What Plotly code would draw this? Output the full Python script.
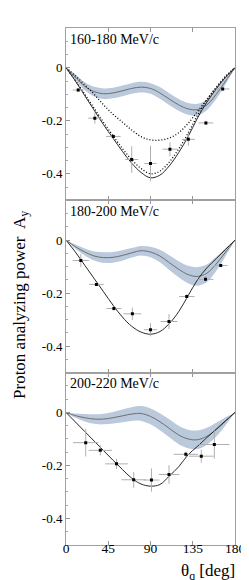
import plotly.graph_objects as go
from plotly.subplots import make_subplots

theta = [0, 10, 20, 30, 40, 50, 60, 70, 80, 90, 100, 110, 120, 130, 140, 150, 160, 170, 180]

# Panel 1 (160-180 MeV/c)
p1_solid = [0, -0.05, -0.105, -0.16, -0.215, -0.265, -0.315, -0.36, -0.395, -0.415, -0.405, -0.37, -0.32, -0.26, -0.19, -0.13, -0.08, -0.035, 0]
p1_dot_deep = [0, -0.048, -0.1, -0.153, -0.206, -0.256, -0.304, -0.347, -0.38, -0.4, -0.39, -0.356, -0.306, -0.247, -0.18, -0.122, -0.074, -0.032, 0]
p1_dot_shallow = [0, -0.03, -0.065, -0.1, -0.14, -0.175, -0.205, -0.235, -0.26, -0.272, -0.273, -0.265, -0.245, -0.21, -0.165, -0.12, -0.075, -0.035, 0]
p1_band_mid = [0, -0.035, -0.07, -0.09, -0.098, -0.095, -0.087, -0.078, -0.073, -0.078, -0.095, -0.118, -0.14, -0.155, -0.158, -0.14, -0.1, -0.05, 0]
p1_band_hw = [0, 0.01, 0.015, 0.018, 0.02, 0.02, 0.02, 0.02, 0.02, 0.02, 0.022, 0.022, 0.022, 0.022, 0.022, 0.02, 0.018, 0.012, 0]
p1_x = [13, 30.7, 50.4, 70, 90, 110.7, 130.3, 149, 166.9]
p1_y = [-0.084, -0.19, -0.259, -0.346, -0.361, -0.307, -0.27, -0.208, -0.08]
p1_ex = [5.9, 7, 7.8, 7, 6.5, 8, 7, 7.8, 7.2]
p1_ey = [0.008, 0.021, 0.008, 0.05, 0.067, 0.026, 0.024, 0.008, 0.008]

# Panel 2 (180-200 MeV/c)
p2_solid = [0, -0.045, -0.095, -0.145, -0.195, -0.245, -0.29, -0.325, -0.347, -0.355, -0.345, -0.315, -0.27, -0.21, -0.15, -0.105, -0.07, -0.035, 0]
p2_band_mid = [0, -0.025, -0.045, -0.06, -0.066, -0.065, -0.058, -0.048, -0.04, -0.045, -0.06, -0.085, -0.11, -0.13, -0.137, -0.125, -0.09, -0.045, 0]
p2_band_hw = [0, 0.008, 0.013, 0.017, 0.02, 0.02, 0.02, 0.018, 0.018, 0.02, 0.024, 0.028, 0.03, 0.033, 0.035, 0.033, 0.027, 0.015, 0]
p2_x = [15.8, 32.4, 51, 70.7, 90, 109.7, 128.6, 148.6, 164.8]
p2_y = [-0.077, -0.167, -0.258, -0.278, -0.338, -0.307, -0.213, -0.148, -0.096]
p2_ex = [8.6, 7.8, 8, 9.5, 7, 9, 8.3, 8.3, 7.2]
p2_ey = [0.025, 0.006, 0.008, 0.023, 0.025, 0.028, 0.008, 0.012, 0.006]

# Panel 3 (200-220 MeV/c)
p3_solid = [0, -0.036, -0.072, -0.108, -0.144, -0.18, -0.215, -0.248, -0.27, -0.278, -0.272, -0.24, -0.205, -0.16, -0.128, -0.095, -0.063, -0.031, 0]
p3_band_mid = [0, -0.012, -0.02, -0.025, -0.025, -0.02, -0.013, -0.006, -0.004, -0.015, -0.035, -0.06, -0.085, -0.1, -0.103, -0.09, -0.065, -0.033, 0]
p3_band_hw = [0, 0.008, 0.014, 0.018, 0.02, 0.022, 0.024, 0.026, 0.028, 0.03, 0.032, 0.034, 0.035, 0.035, 0.035, 0.032, 0.026, 0.015, 0]
p3_x = [21, 36.5, 53.8, 72.1, 91, 109.7, 127.6, 144.1, 158]
p3_y = [-0.114, -0.143, -0.194, -0.254, -0.255, -0.234, -0.158, -0.165, -0.121]
p3_ex = [13.5, 12.4, 12, 13, 8.5, 10.9, 13, 13, 16]
p3_ey = [0.052, 0.019, 0.019, 0.03, 0.044, 0.035, 0.01, 0.025, 0.053]

panel_labels = ["160-180 MeV/c", "180-200 MeV/c", "200-220 MeV/c"]
x_ticks = [0, 45, 90, 135, 180]

BAND = "rgb(186,201,219)"
FONT = "Liberation Serif"

fig = make_subplots(rows=3, cols=1, shared_xaxes=True, vertical_spacing=0)

panels = [
    dict(mid=p1_band_mid, hw=p1_band_hw, solid=p1_solid, dots=[p1_dot_deep, p1_dot_shallow],
         x=p1_x, y=p1_y, ex=p1_ex, ey=p1_ey),
    dict(mid=p2_band_mid, hw=p2_band_hw, solid=p2_solid, dots=[],
         x=p2_x, y=p2_y, ex=p2_ex, ey=p2_ey),
    dict(mid=p3_band_mid, hw=p3_band_hw, solid=p3_solid, dots=[],
         x=p3_x, y=p3_y, ex=p3_ex, ey=p3_ey),
]

for i, p in enumerate(panels):
    r = i + 1
    upper = [m + h for m, h in zip(p["mid"], p["hw"])]
    lower = [m - h for m, h in zip(p["mid"], p["hw"])]
    fig.add_trace(go.Scatter(x=theta, y=upper, mode="lines", line=dict(width=0, shape="spline"),
                             showlegend=False, hoverinfo="skip"), row=r, col=1)
    fig.add_trace(go.Scatter(x=theta, y=lower, mode="lines", line=dict(width=0, shape="spline"),
                             fill="tonexty", fillcolor=BAND, showlegend=False, hoverinfo="skip"), row=r, col=1)
    fig.add_trace(go.Scatter(x=theta, y=p["mid"], mode="lines",
                             line=dict(color="rgb(110,110,110)", width=1, shape="spline"),
                             showlegend=False), row=r, col=1)
    for d in p["dots"]:
        fig.add_trace(go.Scatter(x=theta, y=d, mode="lines",
                                 line=dict(color="black", width=1.3, dash="1px,2px", shape="spline"),
                                 showlegend=False), row=r, col=1)
    fig.add_trace(go.Scatter(x=theta, y=p["solid"], mode="lines",
                             line=dict(color="rgb(40,40,40)", width=1, shape="spline"),
                             showlegend=False), row=r, col=1)
    fig.add_trace(go.Scatter(x=p["x"], y=p["y"], mode="markers",
                             marker=dict(symbol="square", size=3, color="black"),
                             error_x=dict(type="data", array=p["ex"], color="rgb(175,175,175)", thickness=1, width=0),
                             error_y=dict(type="data", array=p["ey"], color="rgb(175,175,175)", thickness=1, width=0),
                             showlegend=False), row=r, col=1)
    fig.update_yaxes(range=[-0.5, 0.15], tickvals=[-0.4, -0.2, 0], ticktext=["-0.4", "-0.2", "0"],
                     ticks="inside", ticklen=4, tickcolor="rgb(150,150,150)",
                     minor=dict(dtick=0.05, tick0=0, ticks="inside", ticklen=2, tickcolor="rgb(170,170,170)"),
                     showline=True, linecolor="rgb(160,160,160)", linewidth=1, mirror=True,
                     showgrid=False, zeroline=False,
                     tickfont=dict(family=FONT, size=13, color="black"), row=r, col=1)
    fig.update_xaxes(range=[0, 180], tickvals=x_ticks, ticks="inside", ticklen=4,
                     tickcolor="rgb(150,150,150)",
                     showline=True, linecolor="rgb(160,160,160)", linewidth=1, mirror="ticks",
                     showgrid=False, zeroline=False, showticklabels=(r == 3),
                     ticklabelstandoff=-9,
                     tickfont=dict(family=FONT, size=13.5, color="black"), row=r, col=1)

# panel labels
for i, lab in enumerate(panel_labels):
    yref = "y domain" if i == 0 else f"y{i+1} domain"
    xref = "x domain" if i == 0 else f"x{i+1} domain"
    fig.add_annotation(text=lab, xref=xref, yref=yref, x=0.01, y=0.99, xanchor="left", yanchor="top",
                       showarrow=False, font=dict(family=FONT, size=14, color="black"))

fig.add_annotation(text="θ<sub>q</sub> [deg]", xref="paper", yref="paper", x=1.01, y=-0.027,
                   xanchor="right", yanchor="top", showarrow=False,
                   font=dict(family=FONT, size=17, color="black"))
fig.add_annotation(text="Proton analyzing power  A<sub>y</sub>", xref="paper", yref="paper",
                   x=-0.27, y=0.465, textangle=-90, xanchor="center", yanchor="middle", showarrow=False,
                   font=dict(family=FONT, size=17, color="black"))

fig.update_layout(width=249, height=580, margin=dict(l=58, r=17, t=20, b=43),
                  plot_bgcolor="white", paper_bgcolor="white", showlegend=False)

fig.write_html("out.html")
